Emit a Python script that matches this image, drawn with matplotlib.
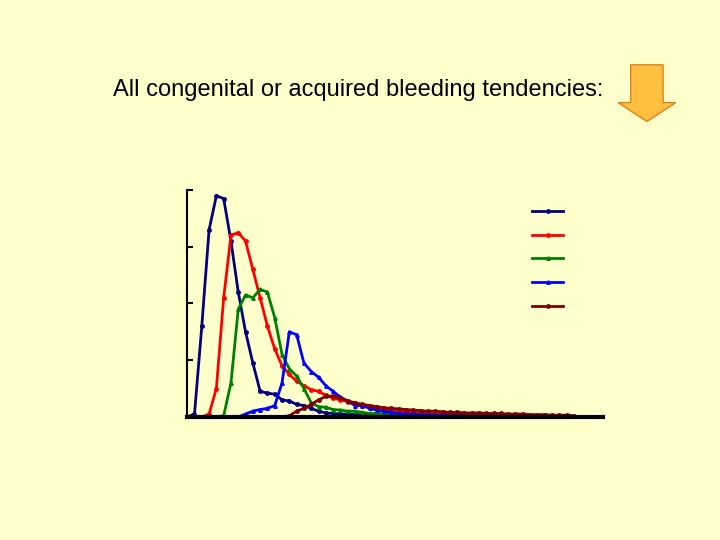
import matplotlib
matplotlib.use("Agg")
import matplotlib.pyplot as plt
from matplotlib.patches import FancyArrow
import numpy as np

navy = [0, 0.05, 1.6, 3.3, 3.9, 3.85, 3.1, 2.2, 1.5, 0.95, 0.45, 0.42, 0.4, 0.3, 0.28, 0.22, 0.2, 0.15, 0.1, 0.07,
        0.06, 0.05, 0.05, 0.04, 0.04, 0.04, 0.03, 0.03, 0.03, 0.03, 0.02, 0.02, 0.02, 0.02, 0.02, 0.02, 0.01, 0.01,
        0.01, 0.01, 0.01, 0.01, 0.01, 0.01, 0.01, 0.0]
red = [0, 0, 0, 0.05, 0.5, 2.1, 3.2, 3.25, 3.1, 2.6, 2.1, 1.6, 1.2, 0.9, 0.75, 0.63, 0.55, 0.48, 0.45, 0.38,
       0.33, 0.3, 0.27, 0.24, 0.2, 0.18, 0.16, 0.14, 0.12, 0.1, 0.09, 0.08, 0.07, 0.06, 0.05, 0.05, 0.04, 0.04,
       0.03, 0.03, 0.03, 0.03, 0.02, 0.02, 0.02, 0.02]
green = [0, 0, 0, 0, 0, 0.02, 0.6, 1.9, 2.15, 2.1, 2.25, 2.2, 1.75, 1.1, 0.85, 0.72, 0.5, 0.25, 0.18, 0.17,
         0.13, 0.12, 0.1, 0.1, 0.08, 0.06, 0.06, 0.05, 0.05, 0.04, 0.04, 0.03, 0.03, 0.03, 0.02, 0.02, 0.02, 0.02,
         0.02, 0.01, 0.01, 0.01, 0.01, 0.01, 0.01, 0.01, 0.01, 0.01, 0.01, 0.0, 0.0, 0.0, 0.0, 0.0]
blue = [0, 0, 0, 0, 0, 0, 0, 0, 0.05, 0.1, 0.13, 0.15, 0.2, 0.6, 1.5, 1.45, 0.95, 0.8, 0.7, 0.55,
        0.45, 0.35, 0.28, 0.2, 0.2, 0.15, 0.12, 0.1, 0.08, 0.06, 0.05, 0.05, 0.04, 0.04, 0.03, 0.03, 0.03, 0.02,
        0.02, 0.02, 0.02, 0.01, 0.01, 0.01, 0.01, 0.0]
brown = [0, 0, 0, 0, 0, 0, 0, 0, 0, 0, 0, 0, 0, 0, 0.02, 0.1, 0.15, 0.22, 0.3, 0.36,
         0.37, 0.33, 0.28, 0.25, 0.22, 0.2, 0.18, 0.16, 0.15, 0.14, 0.13, 0.12, 0.11, 0.1, 0.1, 0.09, 0.08, 0.08,
         0.07, 0.07, 0.07, 0.06, 0.06, 0.06, 0.05, 0.05, 0.05, 0.04, 0.04, 0.04, 0.03, 0.03, 0.03, 0.02]

series = [(navy, "#000080", "o"), (red, "#FF0000", "o"), (green, "#008000", "^"),
          (blue, "#0000FF", "^"), (brown, "#800000", "o")]

bg = "#FFFFCC"
fig = plt.figure(figsize=(7.2, 5.4), dpi=100, facecolor=bg)
ax = fig.add_axes([0.26, 0.228, 0.5775, 0.42], facecolor=bg)
for vals, c, m in series:
    ax.plot(np.arange(len(vals)), vals, color=c, lw=2, marker=m, ms=2.5, label=" ")

ax.set_xlim(0, 57)
ax.set_ylim(0, 4)
ax.set_yticks([0, 1, 2, 3, 4])
ax.set_xticks([])
ax.tick_params(axis="y", direction="in", length=4, width=1.5, labelleft=False)
for s in ["top", "right"]:
    ax.spines[s].set_visible(False)
ax.spines["left"].set_linewidth(1.5)
ax.spines["bottom"].set_linewidth(3)

ax.legend(loc="upper left", bbox_to_anchor=(0.8, 0.99), frameon=False, handlelength=2.2,
          labelspacing=0.7, handletextpad=0.2)

fig.text(0.157, 0.833, "All congenital or acquired bleeding tendencies:", fontsize=17,
         family="Liberation Sans", va="center", ha="left")

fig.patches.append(FancyArrow(0.8985, 0.88, 0, -0.07, width=0.045, head_width=0.08,
                              head_length=0.035, length_includes_head=False,
                              transform=fig.transFigure, facecolor="#FFC040",
                              edgecolor="#E08020", lw=1))

fig.savefig("out.png", dpi=100, facecolor=bg)
